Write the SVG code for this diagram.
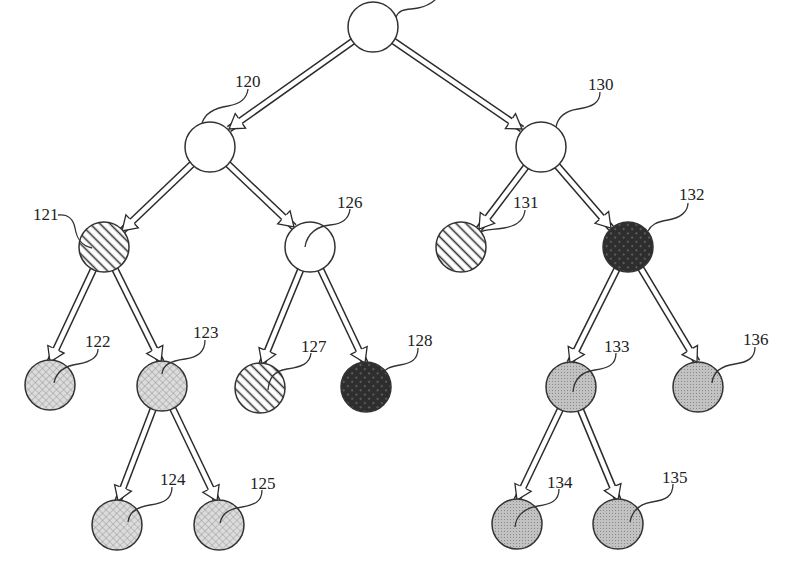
<svg xmlns="http://www.w3.org/2000/svg" width="801" height="572" viewBox="0 0 801 572">
<defs>
<style>
.n{stroke:#333;stroke-width:1.5}
.w{fill:#fff}
.h{fill:url(#hatch)}
.x{fill:url(#cross)}
.g{fill:url(#gray)}
.d{fill:url(#dark)}
.ao{stroke:#2a2a2a;stroke-width:7.5;fill:none}
.ai{stroke:#fff;stroke-width:4.5;fill:none;marker-end:url(#head)}
.ld{fill:none;stroke:#333;stroke-width:1.3}
text{font-family:"Liberation Serif","Times New Roman",serif;font-size:17px;fill:#222}
</style>
<marker id="head" viewBox="-2 -11 18 22" refX="14" refY="0" markerWidth="18" markerHeight="22" markerUnits="userSpaceOnUse" orient="auto" overflow="visible">
<path d="M0,-3.7 L0,-9 L14,0 L0,9 L0,3.7" fill="#fff" stroke="#2a2a2a" stroke-width="1.3" stroke-linejoin="miter"/>
</marker>
<pattern id="hatch" patternUnits="userSpaceOnUse" width="7" height="7" patternTransform="rotate(-45)">
<rect width="7" height="7" fill="#fff"/>
<line x1="3.5" y1="0" x2="3.5" y2="7" stroke="#333" stroke-width="1.6"/>
</pattern>
<pattern id="cross" patternUnits="userSpaceOnUse" width="5" height="5" patternTransform="rotate(45)">
<rect width="5" height="5" fill="#dcdcdc"/>
<line x1="0" y1="0" x2="5" y2="0" stroke="#9a9a9a" stroke-width="1"/>
<line x1="0" y1="0" x2="0" y2="5" stroke="#9a9a9a" stroke-width="1"/>
</pattern>
<pattern id="gray" patternUnits="userSpaceOnUse" width="3" height="3">
<rect width="3" height="3" fill="#c2c2c2"/>
<rect width="1" height="1" fill="#8a8a8a"/>
</pattern>
<pattern id="dark" patternUnits="userSpaceOnUse" width="6" height="6" patternTransform="rotate(45)">
<rect width="6" height="6" fill="#2e2e2e"/>
<circle cx="3" cy="3" r="1" fill="#6a6a6a"/>
</pattern>
</defs>
<rect width="801" height="572" fill="#fff"/>
<g id="connectors">
<line class="ao" x1="373" y1="27" x2="229" y2="129"/><line class="ai" x1="373" y1="27" x2="229" y2="129"/>
<line class="ao" x1="373" y1="27" x2="522" y2="129"/><line class="ai" x1="373" y1="27" x2="522" y2="129"/>
<line class="ao" x1="210" y1="147" x2="122" y2="231"/><line class="ai" x1="210" y1="147" x2="122" y2="231"/>
<line class="ao" x1="210" y1="147" x2="294" y2="227"/><line class="ai" x1="210" y1="147" x2="294" y2="227"/>
<line class="ao" x1="541" y1="147" x2="479" y2="229"/><line class="ai" x1="541" y1="147" x2="479" y2="229"/>
<line class="ao" x1="541" y1="147" x2="611" y2="228"/><line class="ai" x1="541" y1="147" x2="611" y2="228"/>
<line class="ao" x1="104" y1="247" x2="50" y2="362"/><line class="ai" x1="104" y1="247" x2="50" y2="362"/>
<line class="ao" x1="104" y1="247" x2="161" y2="362"/><line class="ai" x1="104" y1="247" x2="161" y2="362"/>
<line class="ao" x1="310" y1="247" x2="262" y2="364"/><line class="ai" x1="310" y1="247" x2="262" y2="364"/>
<line class="ao" x1="310" y1="247" x2="365" y2="363"/><line class="ai" x1="310" y1="247" x2="365" y2="363"/>
<line class="ao" x1="628" y1="247" x2="570" y2="363"/><line class="ai" x1="628" y1="247" x2="570" y2="363"/>
<line class="ao" x1="628" y1="247" x2="697" y2="362"/><line class="ai" x1="628" y1="247" x2="697" y2="362"/>
<line class="ao" x1="162" y1="386" x2="118" y2="501"/><line class="ai" x1="162" y1="386" x2="118" y2="501"/>
<line class="ao" x1="162" y1="386" x2="217" y2="501"/><line class="ai" x1="162" y1="386" x2="217" y2="501"/>
<line class="ao" x1="571" y1="387" x2="517" y2="500"/><line class="ai" x1="571" y1="387" x2="517" y2="500"/>
<line class="ao" x1="571" y1="387" x2="618" y2="500"/><line class="ai" x1="571" y1="387" x2="618" y2="500"/>
</g>
<g id="n110"><circle class="n w" cx="373" cy="27" r="25"/><path class="ld" d="M396,17 C400,8 408,10 418,8 C428,6 432,3 436,-1"/></g>
<g id="n120"><circle class="n w" cx="210" cy="147" r="25"/><path class="ld" d="M248,89 C247,99 240,104 228,106 C214,108 205,114 202,123"/><text x="235" y="87">120</text></g>
<g id="n130"><circle class="n w" cx="541" cy="147" r="25"/><path class="ld" d="M600,92 C600,103 592,107 578,109 C564,111 558,117 556,127"/><text x="588" y="90">130</text></g>
<g id="n121"><circle class="n h" cx="104" cy="247" r="25"/><path class="ld" d="M58,215 C68,214 73,218 75,228 C77,240 82,246 92,248"/><text x="33" y="220">121</text></g>
<g id="n126"><circle class="n w" cx="310" cy="247" r="25"/><path class="ld" d="M350,209 C349,219 342,224 330,225 C318,226 307,233 305,247"/><text x="337" y="208">126</text></g>
<g id="n131"><circle class="n h" cx="461" cy="247" r="25"/><path class="ld" d="M525,210 C524,221 516,226 504,228 C492,230 485,229 481,232"/><text x="513" y="208">131</text></g>
<g id="n132"><circle class="n d" cx="628" cy="247" r="25"/><path class="ld" d="M688,203 C688,212 680,218 668,220 C656,222 651,225 648,231"/><text x="679" y="200">132</text></g>
<g id="n122"><circle class="n x" cx="50" cy="385" r="25"/><path class="ld" d="M98,349 C98,358 90,362 78,364 C64,366 56,372 54,383"/><text x="85" y="347">122</text></g>
<g id="n123"><circle class="n x" cx="162" cy="386" r="25"/><path class="ld" d="M205,340 C205,352 198,357 185,359 C170,361 163,365 162,374"/><text x="193" y="338">123</text></g>
<g id="n127"><circle class="n h" cx="260" cy="388" r="25"/><path class="ld" d="M311,353 C310,364 301,367 287,369 C274,371 269,378 268,390"/><text x="301" y="352">127</text></g>
<g id="n128"><circle class="n d" cx="366" cy="387" r="25"/><path class="ld" d="M418,348 C418,360 411,363 400,365 C390,367 386,368 383,373"/><text x="407" y="346">128</text></g>
<g id="n133"><circle class="n g" cx="571" cy="387" r="25"/><path class="ld" d="M616,353 C616,365 608,368 595,370 C580,372 574,380 573,392"/><text x="604" y="352">133</text></g>
<g id="n136"><circle class="n g" cx="698" cy="387" r="25"/><path class="ld" d="M755,347 C755,358 748,362 735,364 C720,366 713,372 712,383"/><text x="743" y="345">136</text></g>
<g id="n124"><circle class="n x" cx="117" cy="525" r="25"/><path class="ld" d="M172,487 C172,499 164,503 150,505 C136,507 129,513 128,522"/><text x="160" y="485">124</text></g>
<g id="n125"><circle class="n x" cx="219" cy="525" r="25"/><path class="ld" d="M262,490 C262,502 254,505 242,507 C228,509 222,514 220,523"/><text x="250" y="489">125</text></g>
<g id="n134"><circle class="n g" cx="517" cy="524" r="25"/><path class="ld" d="M559,489 C559,501 551,504 538,506 C524,508 516,516 515,527"/><text x="547" y="488">134</text></g>
<g id="n135"><circle class="n g" cx="618" cy="524" r="25"/><path class="ld" d="M673,484 C673,497 665,500 652,502 C639,504 632,512 630,522"/><text x="662" y="483">135</text></g>
</svg>
